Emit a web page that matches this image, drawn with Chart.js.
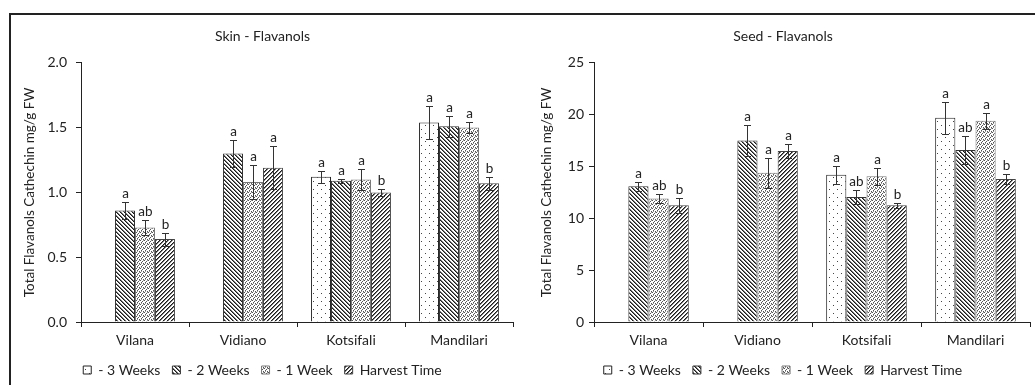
<!DOCTYPE html>
<html>
<head>
<meta charset="utf-8">
<script src="https://cdn.jsdelivr.net/npm/chart.js@4"></script>
<style>
  html, body { margin:0; padding:0; background:#fff; overflow:hidden; width:1035px; height:385px; }
  #frame { position:absolute; left:9px; top:13px; width:1060px; height:420px; border:2px solid #222; box-sizing:border-box; }
  .wrap { position:absolute; top:16px; height:371px; }
  #w1 { left:12px; width:516px; }
  #w2 { left:536px; width:500px; }
</style>
</head>
<body>
<div id="frame"></div>
<div class="wrap" id="w1"><canvas id="c1"></canvas></div>
<div class="wrap" id="w2"><canvas id="c2"></canvas></div>
<script>
// ---------------- DATA ----------------
const categories = ['Vilana', 'Vidiano', 'Kotsifali', 'Mandilari'];
const seriesNames = ['- 3 Weeks', '- 2 Weeks', '- 1 Week', 'Harvest Time'];

// Skin - Flavanols
const skin3w      = [null, null, 1.12, 1.54];
const skin2w      = [0.86, 1.30, 1.09, 1.51];
const skin1w      = [0.73, 1.08, 1.10, 1.50];
const skinHarvest = [0.64, 1.19, 1.00, 1.07];
const skinErr3w      = [null, null, 0.045, 0.13];
const skinErr2w      = [0.065, 0.105, 0.015, 0.08];
const skinErr1w      = [0.055, 0.13, 0.08, 0.045];
const skinErrHarvest = [0.05, 0.165, 0.03, 0.05];
const skinLet3w      = [null, null, 'a', 'a'];
const skinLet2w      = ['a', 'a', 'a', 'a'];
const skinLet1w      = ['ab', 'a', 'a', 'a'];
const skinLetHarvest = ['b', 'a', 'b', 'b'];
const skinTicks = [0, 0.5, 1.0, 1.5, 2.0];

// Seed - Flavanols
const seed3w      = [null, null, 14.2, 19.7];
const seed2w      = [13.1, 17.5, 12.05, 16.6];
const seed1w      = [11.9, 14.4, 14.05, 19.4];
const seedHarvest = [11.25, 16.5, 11.25, 13.8];
const seedErr3w      = [null, null, 0.85, 1.55];
const seedErr2w      = [0.45, 1.5, 0.65, 1.35];
const seedErr1w      = [0.4, 1.45, 0.85, 0.75];
const seedErrHarvest = [0.7, 0.7, 0.25, 0.5];
const seedLet3w      = [null, null, 'a', 'a'];
const seedLet2w      = ['a', 'a', 'ab', 'ab'];
const seedLet1w      = ['ab', 'a', 'a', 'a'];
const seedLetHarvest = ['b', 'a', 'b', 'b'];
const seedTicks = [0, 5, 10, 15, 20, 25];

const yTitle = 'Total Flavanols Cathechin mg/g FW';
const FONT = 'Lato, "Open Sans", sans-serif';
const INK = '#222';

// ---------------- PATTERNS ----------------
function makePattern(size, draw) {
  const c = document.createElement('canvas');
  c.width = size; c.height = size;
  const g = c.getContext('2d');
  g.fillStyle = '#fff'; g.fillRect(0, 0, size, size);
  draw(g, size);
  return g.createPattern(c, 'repeat');
}
function px(g, x, y, col) { g.fillStyle = col; g.fillRect(x, y, 1, 1); }

const pat3w = makePattern(8, (g) => { px(g, 1, 1, '#444'); px(g, 5, 5, '#444'); });
const pat2w = makePattern(4, (g, s) => {
  for (let i = 0; i < s; i++) { px(g, i, i, '#1a1a1a'); px(g, (i + 1) % s, i, '#777'); }
});
const pat1w = makePattern(4, (g) => {
  const dots = [[0,0],[2,1],[1,2],[3,3],[3,0],[1,3]];
  dots.forEach(([x, y], k) => px(g, x, y, k < 4 ? '#555' : '#999'));
});
const patH = makePattern(4, (g, s) => {
  for (let i = 0; i < s; i++) { px(g, s - 1 - i, i, '#1a1a1a'); px(g, (s - i) % s, i, '#777'); }
});
const patterns = [pat3w, pat2w, pat1w, patH];
const borders = ['#222', '#333', '#777', '#444'];

// ---------------- ERROR BAR PLUGIN ----------------
const errorBarPlugin = {
  id: 'errorBars',
  afterDatasetsDraw(chart) {
    const ctx = chart.ctx;
    const ys = chart.scales.y;
    chart.data.datasets.forEach((ds, i) => {
      const meta = chart.getDatasetMeta(i);
      meta.data.forEach((el, j) => {
        const v = ds.data[j];
        if (v === null || v === undefined) return;
        const e = ds.errors[j] || 0;
        const x = Math.round(el.x) + 0.5;
        const yt = Math.round(ys.getPixelForValue(v + e)) + 0.5;
        const yb = Math.round(ys.getPixelForValue(v - e)) + 0.5;
        ctx.save();
        ctx.strokeStyle = '#333';
        ctx.lineWidth = 1;
        ctx.beginPath();
        ctx.moveTo(x, yt); ctx.lineTo(x, yb);
        ctx.moveTo(x - 3.5, yt); ctx.lineTo(x + 3.5, yt);
        ctx.moveTo(x - 3.5, yb); ctx.lineTo(x + 3.5, yb);
        ctx.stroke();
        const lt = ds.letters[j];
        if (lt) {
          ctx.fillStyle = INK;
          ctx.font = '13.5px ' + FONT;
          ctx.textAlign = 'center';
          ctx.textBaseline = 'bottom';
          ctx.fillText(lt, x, yt - 2);
        }
        ctx.restore();
      });
    });
  }
};

function buildChart(canvasId, title, series, errs, lets, ticks, yWidth, titlePad, tickPad, rightPad) {
  const datasets = series.map((d, i) => ({
    label: seriesNames[i],
    data: d,
    errors: errs[i],
    letters: lets[i],
    backgroundColor: patterns[i],
    borderColor: borders[i],
    borderWidth: 1,
    borderSkipped: 'bottom',
    barPercentage: 1.0,
    categoryPercentage: 0.74
  }));
  return new Chart(document.getElementById(canvasId), {
    type: 'bar',
    data: { labels: categories, datasets },
    plugins: [errorBarPlugin],
    options: {
      responsive: true,
      maintainAspectRatio: false,
      animation: false,
      layout: { padding: { left: 0, right: rightPad, top: 0, bottom: 0 } },
      plugins: {
        title: {
          display: true, text: title, color: INK,
          font: { family: FONT, size: 14, weight: 'normal' },
          padding: { top: 12, bottom: 18 }
        },
        legend: {
          position: 'bottom',
          labels: {
            boxWidth: 8, boxHeight: 8, padding: 12, color: INK,
            font: { family: FONT, size: 14 }
          }
        },
        tooltip: { enabled: false }
      },
      scales: {
        x: {
          grid: { display: true, drawOnChartArea: false, drawTicks: true, tickLength: 5, color: '#222', offset: true },
          border: { display: true, color: '#222', width: 1 },
          ticks: { color: INK, font: { family: FONT, size: 14 }, padding: 5 },
          afterFit(s) { s.height = 29; }
        },
        y: {
          min: ticks[0], max: ticks[ticks.length - 1],
          afterBuildTicks(s) { s.ticks = ticks.map(v => ({ value: v })); },
          grid: { display: true, drawOnChartArea: false, drawTicks: true, tickLength: 5, color: '#222' },
          border: { display: true, color: '#222', width: 1 },
          ticks: {
            color: INK, font: { family: FONT, size: 14 }, padding: tickPad,
            callback: (v) => (ticks[1] < 1 ? Number(v).toFixed(1) : String(v))
          },
          title: {
            display: true, text: yTitle, color: INK,
            font: { family: FONT, size: 13.5 },
            padding: { top: titlePad, bottom: 0 }
          },
          afterFit(s) { s.width = yWidth; }
        }
      }
    }
  });
}

buildChart('c1', 'Skin - Flavanols',
  [skin3w, skin2w, skin1w, skinHarvest],
  [skinErr3w, skinErr2w, skinErr1w, skinErrHarvest],
  [skinLet3w, skinLet2w, skinLet1w, skinLetHarvest],
  skinTicks, 69, 10, 9, 15);

buildChart('c2', 'Seed - Flavanols',
  [seed3w, seed2w, seed1w, seedHarvest],
  [seedErr3w, seedErr2w, seedErr1w, seedErrHarvest],
  [seedLet3w, seedLet2w, seedLet1w, seedLetHarvest],
  seedTicks, 58, 3, 5, 6);
</script>
</body>
</html>
